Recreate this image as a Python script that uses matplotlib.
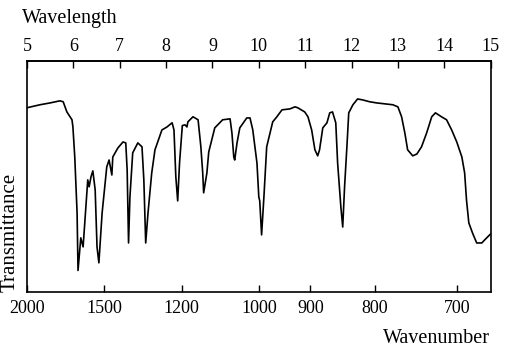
import matplotlib
matplotlib.use("Agg")
from matplotlib import pyplot as plt

# spectrum: wavelength (micrometres) vs transmittance (arbitrary, 0-100)
wavelength = [5.00, 5.28, 5.50, 5.71, 5.78, 5.86, 5.97, 5.99, 6.03, 6.08, 6.10, 6.16, 6.21,
              6.25, 6.31, 6.34, 6.38, 6.42, 6.47, 6.51, 6.55, 6.62, 6.72, 6.77, 6.83, 6.85,
              6.96, 7.07, 7.13, 7.16, 7.19, 7.22, 7.28, 7.39, 7.48, 7.52, 7.56, 7.61, 7.69,
              7.76, 7.91, 8.02, 8.13, 8.17, 8.21, 8.25, 8.29, 8.35, 8.41, 8.45, 8.47, 8.58,
              8.69, 8.75, 8.79, 8.81, 8.88, 8.92, 9.05, 9.22, 9.38, 9.42, 9.46, 9.48, 9.53,
              9.59, 9.74, 9.81, 9.87, 9.96, 10.00, 10.02, 10.06, 10.11, 10.17, 10.30, 10.39,
              10.50, 10.67, 10.78, 10.84, 10.99, 11.06, 11.14, 11.21, 11.27, 11.31, 11.38,
              11.47, 11.53, 11.59, 11.66, 11.70, 11.77, 11.81, 11.85, 11.90, 11.94, 12.03,
              12.13, 12.24, 12.39, 12.54, 12.72, 12.89, 13.00, 13.08, 13.15, 13.21, 13.32,
              13.41, 13.51, 13.62, 13.73, 13.81, 13.94, 14.05, 14.16, 14.27, 14.38, 14.44,
              14.48, 14.53, 14.61, 14.70, 14.81, 14.89, 15.00]
transmittance = [79.7, 81.0, 81.8, 82.7, 82.3, 77.9, 74.5, 71.4, 58.4, 34.2, 9.3, 23.4, 19.5,
                 31.2, 48.5, 45.5, 49.8, 52.4, 44.2, 19.5, 12.6, 34.2, 54.1, 57.1, 50.6, 58.4,
                 62.3, 64.9, 64.5, 52.8, 21.2, 41.1, 60.2, 64.5, 62.8, 48.5, 21.2, 34.2, 51.5,
                 61.5, 70.1, 71.4, 73.2, 70.1, 49.8, 39.4, 55.8, 72.0, 72.3, 71.4, 73.6, 75.8,
                 74.5, 62.8, 51.5, 42.9, 51.5, 60.6, 71.0, 74.5, 74.9, 68.8, 58.4, 57.1, 64.5,
                 71.0, 75.3, 75.3, 70.1, 55.8, 41.1, 39.4, 24.7, 41.1, 62.8, 73.6, 75.8,
                 78.8, 79.2, 80.1, 79.7, 77.9, 75.8, 70.1, 61.5, 58.9, 61.5, 71.0,
                 73.2, 77.5, 77.9, 73.2, 55.8, 36.8, 28.1, 45.5, 62.8, 77.5, 81.0,
                 83.5, 83.1, 82.3, 81.8, 81.4, 81.0, 80.1, 75.8, 68.8, 61.5, 58.9,
                 59.7, 62.8, 68.8, 75.8, 77.5, 75.8, 74.5, 70.1, 64.9, 58.4, 51.5,
                 39.8, 29.9, 25.5, 21.2, 21.2, 22.9, 25.1]

wavelength_ticks = [5, 6, 7, 8, 9, 10, 11, 12, 13, 14, 15]
wavenumber_ticks = [2000, 1500, 1200, 1000, 900, 800, 700]

plt.rcParams['font.family'] = ['Liberation Serif', 'DejaVu Serif']

fig = plt.figure(figsize=(5.05, 3.6), dpi=100)
ax = fig.add_axes([0.0535, 0.189, 0.918, 0.642])
ax.plot(wavelength, transmittance, color='black', lw=1.2)
ax.set_xlim(5, 15)
ax.set_ylim(0, 100)
ax.set_yticks([])
for s in ax.spines.values():
    s.set_linewidth(1.2)

# bottom axis: wavenumber (cm-1) placed at 1e4 / wavenumber
ax.set_xticks([1e4 / w for w in wavenumber_ticks])
ax.set_xticklabels([str(w) for w in wavenumber_ticks])
ax.tick_params(axis='x', direction='in', length=5, width=1, labelsize=13, pad=6)

top = ax.secondary_xaxis('top')
top.set_xticks(wavelength_ticks)
top.set_xticklabels([str(w) for w in wavelength_ticks])
top.tick_params(direction='in', length=5, width=1, labelsize=13, pad=4)
top.spines['top'].set_linewidth(1.2)

fig.text(0.0436, 1 - 23 / 360, 'Wavelength', fontsize=14.5, va='baseline', ha='left')
fig.text(0.970, 1 - 343 / 360, 'Wavenumber', fontsize=14.5, va='baseline', ha='right')
fig.text(0.02, 0.189, 'Transmittance', fontsize=15, rotation=90, ha='center', va='bottom')

fig.savefig('out.png', dpi=100)
